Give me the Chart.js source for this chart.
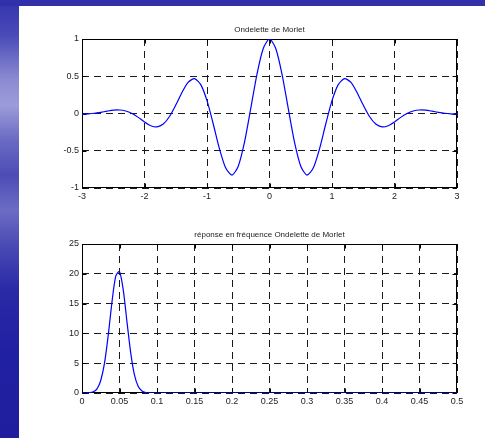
<!DOCTYPE html>
<html>
<head>
<meta charset="utf-8">
<script src="https://cdn.jsdelivr.net/npm/chart.js@4/dist/chart.umd.min.js"></script>
<style>
  html, body { margin: 0; padding: 0; background: #fff; }
  #page { position: relative; width: 485px; height: 438px; overflow: hidden; background: #fff; }
  #band { position: absolute; left: 0; top: 0; width: 19px; height: 438px;
    background: linear-gradient(to bottom, #3434ae 0%, #4a4ab8 8%, #8a8ad2 18%, #9c9cda 24%, #6a6ac4 32%,
      #4c4cb6 40%, #6c6cc4 48%, #4a4ab4 56%, #2a2aa6 66%, #2020a2 80%, #1e1e9e 100%); }
  #topbar { position: absolute; left: 0; top: 0; width: 485px; height: 6px; background: #3030a8; }
  canvas { position: absolute; left: 0; }
  #c1 { top: 0; }
  #c2 { top: 219px; }
</style>
</head>
<body>
<div id="page">
  <div id="band"></div>
  <div id="topbar"></div>
  <canvas id="c1" width="485" height="219"></canvas>
  <canvas id="c2" width="485" height="219"></canvas>
</div>
<script>
// Ondelette de Morlet
var tValues = [-3.0, -2.9, -2.8, -2.7, -2.6, -2.5, -2.4, -2.3, -2.2, -2.1, -2.0,
  -1.9, -1.8, -1.7, -1.6, -1.5, -1.4, -1.3, -1.2, -1.1, -1.0,
  -0.9, -0.8, -0.7, -0.6, -0.5, -0.4, -0.3, -0.2, -0.1, 0.0,
  0.1, 0.2, 0.3, 0.4, 0.5, 0.6, 0.7, 0.8, 0.9, 1.0,
  1.1, 1.2, 1.3, 1.4, 1.5, 1.6, 1.7, 1.8, 1.9, 2.0,
  2.1, 2.2, 2.3, 2.4, 2.5, 2.6, 2.7, 2.8, 2.9, 3.0];
var waveValues = [-0.008, -0.005, 0.003, 0.016, 0.031, 0.044, 0.047, 0.034, 0.000, -0.052, -0.114,
  -0.164, -0.180, -0.142, -0.040, 0.113, 0.283, 0.420, 0.467, 0.387, 0.172,
  -0.141, -0.475, -0.733, -0.827, -0.707, -0.384, 0.068, 0.530, 0.873, 1.000,
  0.873, 0.530, 0.068, -0.384, -0.707, -0.827, -0.733, -0.475, -0.141, 0.172,
  0.387, 0.467, 0.420, 0.283, 0.113, -0.040, -0.142, -0.180, -0.164, -0.114,
  -0.052, 0.000, 0.034, 0.047, 0.044, 0.031, 0.016, 0.003, -0.005, -0.008];

// réponse en fréquence
var freqValues = [0, 0.005, 0.01, 0.015, 0.02, 0.025, 0.03, 0.035, 0.04, 0.045, 0.05,
  0.055, 0.06, 0.065, 0.07, 0.075, 0.08, 0.085, 0.09, 0.095, 0.1, 0.2, 0.3, 0.4, 0.5];
var respValues = [0, 0.01, 0.05, 0.2, 0.7, 2.1, 5.0, 9.7, 15.3, 19.6, 20.4,
  17.3, 11.9, 6.7, 3.0, 1.1, 0.35, 0.08, 0.02, 0, 0, 0, 0, 0, 0];

var xTicks1 = [-3, -2, -1, 0, 1, 2, 3];
var yTicks1 = [-1, -0.5, 0, 0.5, 1];
var xTicks2 = [0, 0.05, 0.1, 0.15, 0.2, 0.25, 0.3, 0.35, 0.4, 0.45, 0.5];
var yTicks2 = [0, 5, 10, 15, 20, 25];

Chart.defaults.font.family = '"Liberation Sans", Arial, sans-serif';
Chart.defaults.font.size = 9;
Chart.defaults.color = '#222';

function pts(xs, ys) {
  return xs.map((x, i) => ({ x: x, y: ys[i] }));
}

// box + inward tick marks, then the title above the box
var matlabAxes = {
  id: 'matlabAxes',
  beforeDatasetsDraw(chart) {
    const { ctx, chartArea: a, scales } = chart;
    ctx.save();
    ctx.strokeStyle = '#000';
    ctx.lineWidth = 1;
    ctx.setLineDash([]);
    const L = Math.round(a.left) + 0.5, R = Math.round(a.right) - 0.5;
    const T = Math.round(a.top) + 0.5, B = Math.round(a.bottom) - 0.5;
    ctx.strokeRect(L, T, R - L, B - T);
    ctx.beginPath();
    scales.x.ticks.forEach(t => {
      const px = Math.round(scales.x.getPixelForValue(t.value)) + 0.5;
      ctx.moveTo(px, B); ctx.lineTo(px, B - 4);
      ctx.moveTo(px, T); ctx.lineTo(px, T + 4);
    });
    scales.y.ticks.forEach(t => {
      const py = Math.round(scales.y.getPixelForValue(t.value)) + 0.5;
      ctx.moveTo(L, py); ctx.lineTo(L + 4, py);
      ctx.moveTo(R, py); ctx.lineTo(R - 4, py);
    });
    ctx.stroke();
    ctx.restore();
  },
  afterDraw(chart, args, opts) {
    const { ctx, chartArea: a } = chart;
    ctx.save();
    ctx.fillStyle = '#222';
    ctx.font = '8px "Liberation Sans", Arial, sans-serif';
    ctx.textAlign = 'center';
    ctx.textBaseline = 'alphabetic';
    ctx.fillText(opts.text, (a.left + a.right) / 2, a.top - 7);
    ctx.restore();
  }
};

function fmt(v) {
  return String(Math.round(v * 100) / 100);
}

function makeChart(id, data, xTicks, yTicks, title, pad) {
  new Chart(document.getElementById(id), {
    type: 'line',
    data: {
      datasets: [{
        data: data,
        borderColor: '#0000ff',
        borderWidth: 1.2,
        pointRadius: 0,
        tension: 0.25,
        fill: false
      }]
    },
    options: {
      responsive: false,
      animation: false,
      layout: { padding: pad },
      plugins: {
        legend: { display: false },
        tooltip: { enabled: false },
        matlabAxes: { text: title }
      },
      scales: {
        x: {
          type: 'linear',
          min: xTicks[0],
          max: xTicks[xTicks.length - 1],
          afterBuildTicks: s => { s.ticks = xTicks.map(v => ({ value: v })); },
          afterFit: s => { s.height = 20; },
          ticks: { padding: 3, maxRotation: 0, autoSkip: false, callback: fmt },
          grid: { color: '#1a1a1a', lineWidth: 1, drawTicks: false },
          border: { display: false, dash: [7, 5] }
        },
        y: {
          min: yTicks[0],
          max: yTicks[yTicks.length - 1],
          afterBuildTicks: s => { s.ticks = yTicks.map(v => ({ value: v })); },
          afterFit: s => { s.width = 82; },
          ticks: { padding: 3, autoSkip: false, callback: fmt },
          grid: { color: '#1a1a1a', lineWidth: 1, drawTicks: false },
          border: { display: false, dash: [7, 5] }
        }
      }
    },
    plugins: [matlabAxes]
  });
}

makeChart('c1', pts(tValues, waveValues), xTicks1, yTicks1, 'Ondelette de Morlet',
  { top: 39, right: 28, bottom: 11, left: 0 });
makeChart('c2', pts(freqValues, respValues), xTicks2, yTicks2, 'réponse en fréquence Ondelette de Morlet',
  { top: 25, right: 28, bottom: 25, left: 0 });
</script>
</body>
</html>
